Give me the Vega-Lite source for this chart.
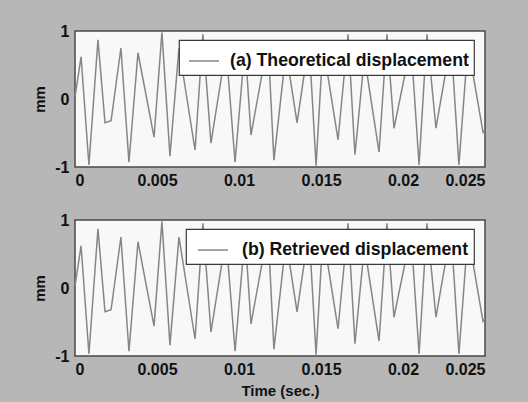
{
  "$schema": "https://vega.github.io/schema/vega-lite/v6.json",
  "background": "#b7b7b7",
  "padding": {"left": 32, "top": 22, "right": 42, "bottom": 12},
  "spacing": 22,
  "datasets": {
    "sig": [
      {"t": 0, "v": 0.03}, {"t": 0.00037, "v": 0.62}, {"t": 0.00085, "v": -0.97}, {"t": 0.0014, "v": 0.87},
      {"t": 0.00183, "v": -0.35}, {"t": 0.0022, "v": -0.32}, {"t": 0.0028, "v": 0.75}, {"t": 0.00329, "v": -0.93},
      {"t": 0.00384, "v": 0.68}, {"t": 0.00482, "v": -0.56}, {"t": 0.0053, "v": 0.98}, {"t": 0.00579, "v": -0.84},
      {"t": 0.00634, "v": 0.75}, {"t": 0.00732, "v": -0.75}, {"t": 0.0078, "v": 0.95}, {"t": 0.00829, "v": -0.65},
      {"t": 0.00921, "v": 0.75}, {"t": 0.00976, "v": -0.93}, {"t": 0.01037, "v": 0.8}, {"t": 0.01073, "v": -0.53},
      {"t": 0.01177, "v": 0.85}, {"t": 0.01213, "v": -0.9}, {"t": 0.01287, "v": 0.7}, {"t": 0.01354, "v": -0.35},
      {"t": 0.01427, "v": 0.85}, {"t": 0.0147, "v": -0.98}, {"t": 0.01512, "v": 0.8}, {"t": 0.01604, "v": -0.6},
      {"t": 0.01665, "v": 0.95}, {"t": 0.01707, "v": -0.82}, {"t": 0.01756, "v": 0.4}, {"t": 0.0178, "v": 0.38},
      {"t": 0.01854, "v": -0.78}, {"t": 0.01902, "v": 0.95}, {"t": 0.01945, "v": -0.43}, {"t": 0.02049, "v": 0.8},
      {"t": 0.02098, "v": -0.97}, {"t": 0.02146, "v": 0.95}, {"t": 0.02201, "v": -0.43}, {"t": 0.02293, "v": 0.85},
      {"t": 0.02341, "v": -0.97}, {"t": 0.02396, "v": 0.8}, {"t": 0.02488, "v": -0.49}, {"t": 0.025, "v": -0.45}
    ]
  },
  "config": {
    "font": "Liberation Sans",
    "view": {"fill": "#f8f8f8", "stroke": "#4a4a4a", "strokeWidth": 1.5},
    "axis": {
      "grid": false, "domain": false, "ticks": false, "labelOverlap": false,
      "labelFont": "Liberation Sans", "labelFontWeight": "bold", "labelFontSize": 16, "labelColor": "#111",
      "titleFont": "Liberation Sans", "titleFontWeight": "bold", "titleFontSize": 15, "titleColor": "#111"
    },
    "legend": {
      "orient": "none", "fillColor": "#ffffff", "strokeColor": "#3a3a3a", "strokeWidth": 1.2,
      "padding": 5, "symbolType": "stroke", "symbolSize": 900, "symbolStrokeWidth": 1.5,
      "labelFont": "Liberation Sans", "labelFontWeight": "bold", "labelFontSize": 17.7, "labelColor": "#111",
      "title": null, "labelLimit": 400
    }
  },
  "vconcat": [
    {
      "width": 410, "height": 136,
      "data": {"name": "sig"},
      "transform": [{"calculate": "'(a) Theoretical displacement'", "as": "s"}],
      "mark": {"type": "line", "strokeWidth": 1.5},
      "encoding": {
        "x": {"field": "t", "type": "quantitative", "scale": {"domain": [0, 0.025], "nice": false},
              "axis": {"values": [0, 0.005, 0.01, 0.015, 0.02, 0.025], "format": "~g", "title": null, "labelPadding": 5}},
        "y": {"field": "v", "type": "quantitative", "scale": {"domain": [-1, 1], "nice": false},
              "axis": {"values": [-1, 0, 1], "labelExpr": "datum.value < 0 ? '-1' : (datum.value > 0 ? '1' : '0')", "title": "mm", "labelPadding": 6, "titlePadding": 7}},
        "color": {"field": "s", "type": "nominal", "scale": {"range": ["#868686"]},
                  "legend": {"legendX": 104, "legendY": 9, "symbolOffset": 4, "labelOffset": 10}}
      }
    },
    {
      "width": 410, "height": 136,
      "data": {"name": "sig"},
      "transform": [{"calculate": "'(b) Retrieved displacement'", "as": "s"}],
      "mark": {"type": "line", "strokeWidth": 1.5},
      "encoding": {
        "x": {"field": "t", "type": "quantitative", "scale": {"domain": [0, 0.025], "nice": false},
              "axis": {"values": [0, 0.005, 0.01, 0.015, 0.02, 0.025], "format": "~g", "title": "Time (sec.)", "labelPadding": 5, "titlePadding": 6}},
        "y": {"field": "v", "type": "quantitative", "scale": {"domain": [-1, 1], "nice": false},
              "axis": {"values": [-1, 0, 1], "labelExpr": "datum.value < 0 ? '-1' : (datum.value > 0 ? '1' : '0')", "title": "mm", "labelPadding": 6, "titlePadding": 7}},
        "color": {"field": "s", "type": "nominal", "scale": {"range": ["#868686"]},
                  "legend": {"legendX": 111, "legendY": 9, "symbolOffset": 6, "labelOffset": 13}}
      }
    }
  ],
  "resolve": {"scale": {"color": "independent"}, "legend": {"color": "independent"}}
}
